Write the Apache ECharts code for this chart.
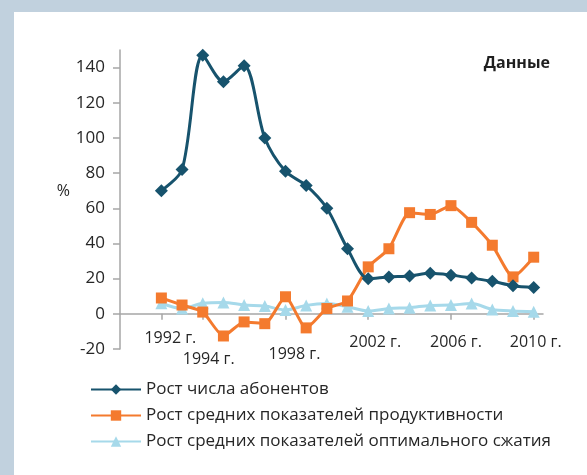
<!DOCTYPE html>
<html style="height: 100%">
<head>
<meta charset="utf-8">
<title>Данные</title>
<style type="text/css">
  html, body { margin: 0; height: 100%; }
  body { background-color: #c1d1de; }
  #panel { position: absolute; left: 14px; top: 12px; right: 0; bottom: 0; background: #fff; }
  #container { position: absolute; left: 0; top: 0; width: 587px; height: 475px; }
</style>
</head>
<body>
<div id="panel"></div>
<div id="container"></div>
<script type="text/javascript" src="https://cdn.jsdelivr.net/npm/echarts@6/dist/echarts.min.js"></script>
<script type="text/javascript">
// years on the x axis
var years = [1992, 1993, 1994, 1995, 1996, 1997, 1998, 1999, 2000, 2001,
             2002, 2003, 2004, 2005, 2006, 2007, 2008, 2009, 2010];
// labelled years
var labelYears = [1992, 1994, 1998, 2002, 2006, 2010];
var yTicks = [-20, 0, 20, 40, 60, 80, 100, 120, 140];

var names = ['Рост числа абонентов',
             'Рост средних показателей продуктивности',
             'Рост средних показателей оптимального сжатия'];

var subscribers = [70, 82, 147, 132, 141, 100, 81, 73, 60, 37,
                   20, 21, 21.5, 23, 22, 20.3, 18.5, 16, 15];
var productivity = [9, 5, 1, -12.6, -4.6, -5.6, 9.7, -8, 3, 7.3,
                    26.7, 37, 57.5, 56.5, 61.5, 52, 39, 21, 32.2];
var compression = [6, 3, 6, 6.5, 5, 4.4, 2.2, 4.8, 5.8, 4,
                   1.6, 3, 3.5, 4.8, 5, 5.8, 2.5, 1.6, 1.2];

function pairs(vals) {
  var out = [];
  for (var i = 0; i < years.length; i++) out.push([years[i], vals[i]]);
  return out;
}

var font = 'Open Sans';

// label nudges [dx, dy] like in the original picture
var labelShift = {1992: [9, 0], 1994: [6, 21], 1998: [9, 16], 2002: [7, 4], 2006: [5, 4], 2010: [2, 4]};
var rich = {};
labelYears.forEach(function (y) {
  var s = labelShift[y];
  rich['y' + y] = {
    fontFamily: font, fontSize: 16, color: '#262626',
    padding: [s[1], 0, 0, s[0] * 2]
  };
});

var dom = document.getElementById('container');
var myChart = echarts.init(dom);

var option = {
  animation: false,
  title: {
    text: 'Данные',
    right: 32, top: 50,
    textStyle: { fontFamily: font, fontSize: 16, fontWeight: 'bold', color: '#1f1f1f' }
  },
  legend: {
    orient: 'vertical',
    left: 90, top: 381, padding: 0,
    itemWidth: 50, itemHeight: 13, itemGap: 9,
    textStyle: { fontFamily: font, fontSize: 17, color: '#262626' },
    data: names
  },
  grid: { left: 120, right: 44, top: 50, bottom: 126, containLabel: false },
  xAxis: {
    type: 'value',
    min: 1990, max: 2010.45,
    splitLine: { show: false },
    axisLine: { onZero: true, lineStyle: { color: '#a6a6a6', width: 1.5 } },
    axisTick: { customValues: labelYears, length: 6, lineStyle: { color: '#a6a6a6', width: 1.5 } },
    axisLabel: {
      customValues: labelYears,
      margin: -19,
      formatter: function (v) { return '{y' + v + '|' + v + ' г.}'; },
      rich: rich
    }
  },
  yAxis: {
    type: 'value',
    min: -20, max: 150,
    name: '%',
    nameLocation: 'middle',
    nameRotate: 0,
    nameGap: 43,
    nameTextStyle: { fontFamily: font, fontSize: 16, color: '#262626', verticalAlign: 'bottom' },
    splitLine: { show: false },
    axisLine: { lineStyle: { color: '#a6a6a6', width: 1.5 } },
    axisTick: { customValues: yTicks, length: 7, lineStyle: { color: '#a6a6a6', width: 1.5 } },
    axisLabel: {
      customValues: yTicks,
      margin: 15,
      fontFamily: font, fontSize: 17, color: '#262626'
    }
  },
  series: [
    {
      name: names[0], type: 'line', smooth: 0.3,
      data: pairs(subscribers),
      symbol: 'diamond', symbolSize: 13,
      lineStyle: { color: '#17536d', width: 3 },
      itemStyle: { color: '#17536d' },
      z: 4
    },
    {
      name: names[1], type: 'line', smooth: 0.2,
      data: pairs(productivity),
      symbol: 'rect', symbolSize: 11,
      lineStyle: { color: '#f47a2e', width: 3 },
      itemStyle: { color: '#f47a2e' },
      z: 3
    },
    {
      name: names[2], type: 'line', smooth: 0.3,
      data: pairs(compression),
      symbol: 'triangle', symbolSize: 12,
      lineStyle: { color: '#a6d9ea', width: 3 },
      itemStyle: { color: '#a6d9ea' },
      z: 2
    }
  ]
};

if (option && typeof option === 'object') {
  myChart.setOption(option, true);
}
</script>
</body>
</html>
